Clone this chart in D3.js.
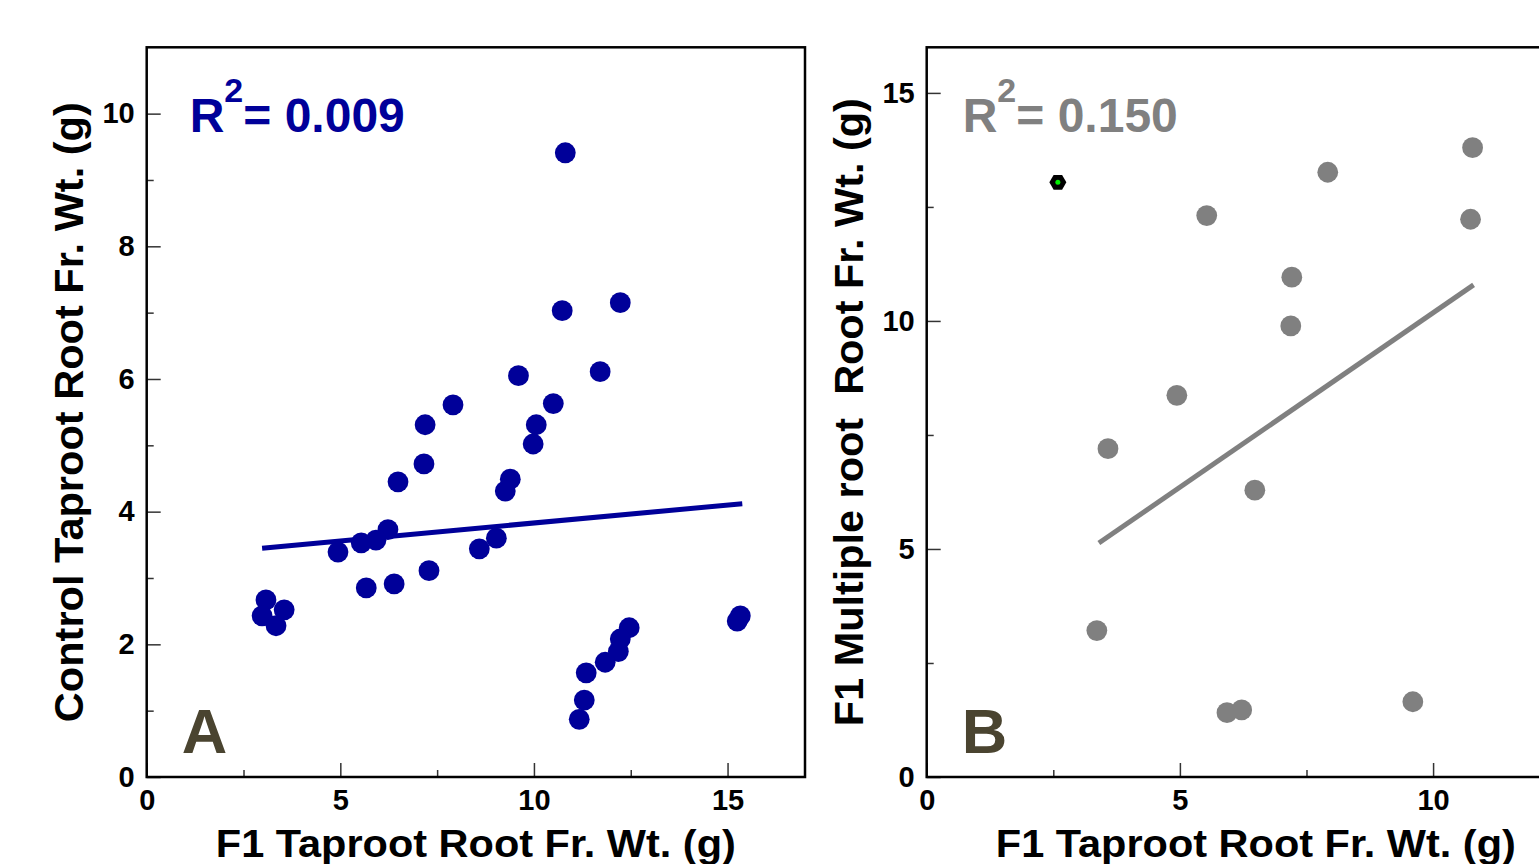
<!DOCTYPE html>
<html>
<head>
<meta charset="utf-8">
<script src="https://cdn.jsdelivr.net/npm/d3@7"></script>
<style>
    body { margin: 0; background: white; }
    svg { display: block; font-family: Arial, "Liberation Sans", sans-serif; font-weight: bold; }
    .tick line { stroke: #333; stroke-width: 1.5; }
    .tick text { font-size: 29px; font-weight: bold; fill: #000; }
</style>
</head>
<body>
<svg></svg>
<script>
// panel A: control taproot vs F1 taproot
const xA = [10.81, 10.73, 12.23, 11.71, 9.60, 10.50, 7.91, 7.19, 10.06, 9.98,
            7.16, 6.49, 9.39, 9.26, 6.23, 5.92, 5.54, 4.94, 9.03, 8.59,
            7.29, 5.67, 6.39, 3.08, 2.98, 3.55, 3.34, 12.46, 12.23, 12.18,
            11.84, 11.35, 11.30, 11.17, 15.33, 15.25]
const yA = [9.41, 7.03, 7.15, 6.11, 6.05, 5.63, 5.61, 5.31, 5.31, 5.02,
            4.72, 4.45, 4.49, 4.31, 3.73, 3.57, 3.53, 3.39, 3.60, 3.44,
            3.11, 2.85, 2.91, 2.67, 2.43, 2.52, 2.28, 2.25, 2.08, 1.89,
            1.73, 1.57, 1.16, 0.87, 2.43, 2.35]
const fitAx = [2.98, 15.38]
const fitAy = [3.45, 4.12]

// panel B: F1 multiple root vs F1 taproot
const xB = [10.78, 7.92, 5.53, 10.74, 7.21, 7.19, 4.94, 3.58, 6.48, 3.36, 5.93, 6.22, 9.60]
const yB = [13.80, 13.26, 12.31, 12.23, 10.96, 9.89, 8.37, 7.20, 6.29, 3.21, 1.41, 1.47, 1.65]
const outlierB = [2.59, 13.04]
const fitBx = [3.40, 10.80]
const fitBy = [5.13, 10.79]

// ticks
const ticksA_x = [0, 5, 10, 15]
const minorA_x = [2.5, 7.5, 12.5]
const ticksA_y = [0, 2, 4, 6, 8, 10]
const minorA_y = [1, 3, 5, 7, 9]
const ticksB_x = [0, 5, 10]
const minorB_x = [2.5, 7.5, 12.5]
const ticksB_y = [0, 5, 10, 15]
const minorB_y = [2.5, 7.5, 12.5]

const svg = d3.select("svg")
    .attr("width", 1539)
    .attr("height", 864)

const plotTop = 47.3, plotBottom = 777

const drawPanel = function(opt) {
    const scaleX = d3.scaleLinear().domain(opt.xDomain).range([opt.left, opt.right])
    const scaleY = d3.scaleLinear().domain(opt.yDomain).range([plotBottom, plotTop])

    // major + minor ticks, pointing inward
    svg.append("g")
        .attr("transform", `translate(0, ${plotBottom})`)
        .call(d3.axisBottom(scaleX).tickValues(opt.xTicks).tickSizeInner(-14).tickSizeOuter(0).tickPadding(12))
        .call(g => g.select(".domain").remove())
    svg.append("g")
        .attr("transform", `translate(0, ${plotBottom})`)
        .call(d3.axisBottom(scaleX).tickValues(opt.xMinor).tickFormat("").tickSizeInner(-7).tickSizeOuter(0))
        .call(g => g.select(".domain").remove())
    svg.append("g")
        .attr("transform", `translate(${opt.left}, 0)`)
        .call(d3.axisLeft(scaleY).tickValues(opt.yTicks).tickSizeInner(-14).tickSizeOuter(0).tickPadding(12))
        .call(g => g.select(".domain").remove())
    svg.append("g")
        .attr("transform", `translate(${opt.left}, 0)`)
        .call(d3.axisLeft(scaleY).tickValues(opt.yMinor).tickFormat("").tickSizeInner(-7).tickSizeOuter(0))
        .call(g => g.select(".domain").remove())

    svg.selectAll("g").attr("font-family", null).attr("font-size", null)

    // frame
    svg.append("rect")
        .attr("x", opt.left)
        .attr("y", plotTop)
        .attr("width", opt.right - opt.left)
        .attr("height", plotBottom - plotTop)
        .attr("fill", "none")
        .attr("stroke", "#000")
        .attr("stroke-width", 2.5)

    // regression line
    svg.append("line")
        .attr("x1", scaleX(opt.fitX[0]))
        .attr("y1", scaleY(opt.fitY[0]))
        .attr("x2", scaleX(opt.fitX[1]))
        .attr("y2", scaleY(opt.fitY[1]))
        .attr("stroke", opt.color)
        .attr("stroke-width", 5)

    // points
    svg.append("g")
        .selectAll("circle")
        .data(opt.xs)
        .enter()
        .append("circle")
        .attr("cx", (d, i) => scaleX(d))
        .attr("cy", (d, i) => scaleY(opt.ys[i]))
        .attr("r", 10.4)
        .attr("fill", opt.color)

    // R squared
    const r2 = svg.append("text")
        .attr("x", opt.left + opt.r2dx)
        .attr("y", 132)
        .attr("font-size", 48)
        .attr("fill", opt.color)
    r2.append("tspan").text("R")
    r2.append("tspan").attr("dy", -30).attr("font-size", 34).text("2")
    r2.append("tspan").attr("dy", 30).text("= " + opt.r2)

    // panel letter
    svg.append("text")
        .attr("x", opt.left + 35)
        .attr("y", 753)
        .attr("font-size", 63)
        .attr("fill", "#4a4430")
        .text(opt.letter)

    // axis titles
    svg.append("text")
        .attr("x", (opt.left + opt.right) / 2)
        .attr("y", 857)
        .attr("text-anchor", "middle")
        .attr("font-size", 38)
        .attr("textLength", 520)
        .attr("lengthAdjust", "spacingAndGlyphs")
        .text("F1 Taproot Root Fr. Wt. (g)")
    svg.append("text")
        .attr("transform", `translate(${opt.left - 64}, ${(plotTop + plotBottom) / 2}) rotate(-90)`)
        .attr("text-anchor", "middle")
        .attr("font-size", 41)
        .attr("textLength", opt.yTitleLen)
        .attr("lengthAdjust", "spacingAndGlyphs")
        .style("white-space", "pre")
        .text(opt.yTitle)

    return {scaleX, scaleY}
}

drawPanel({
    left: 146.7, right: 805,
    xDomain: [0, 17], yDomain: [0, 11],
    xTicks: ticksA_x, xMinor: minorA_x, yTicks: ticksA_y, yMinor: minorA_y,
    xs: xA, ys: yA, fitX: fitAx, fitY: fitAy,
    color: "#000099", r2: "0.009", r2dx: 43, letter: "A",
    yTitle: "Control Taproot Root Fr. Wt. (g)", yTitleLen: 620
})

const panelB = drawPanel({
    left: 926.7, right: 1585,
    xDomain: [0, 13], yDomain: [0, 16],
    xTicks: ticksB_x, xMinor: minorB_x, yTicks: ticksB_y, yMinor: minorB_y,
    xs: xB, ys: yB, fitX: fitBx, fitY: fitBy,
    color: "#808080", r2: "0.150", r2dx: 36, letter: "B",
    yTitle: "F1 Multiple root  Root Fr. Wt. (g)", yTitleLen: 628
})

// highlighted point in B: black hexagon with a green dot
const hexR = 8.5
const hex = d3.range(6).map(k => [hexR * Math.cos(k * Math.PI / 3), hexR * Math.sin(k * Math.PI / 3)])
const hx = panelB.scaleX(outlierB[0])
const hy = panelB.scaleY(outlierB[1])
svg.append("path")
    .attr("transform", `translate(${hx}, ${hy})`)
    .attr("d", d3.line()(hex) + "Z")
    .attr("fill", "#000")
svg.append("circle")
    .attr("cx", hx)
    .attr("cy", hy)
    .attr("r", 2.5)
    .attr("fill", "#00ee00")
</script>
</body>
</html>
